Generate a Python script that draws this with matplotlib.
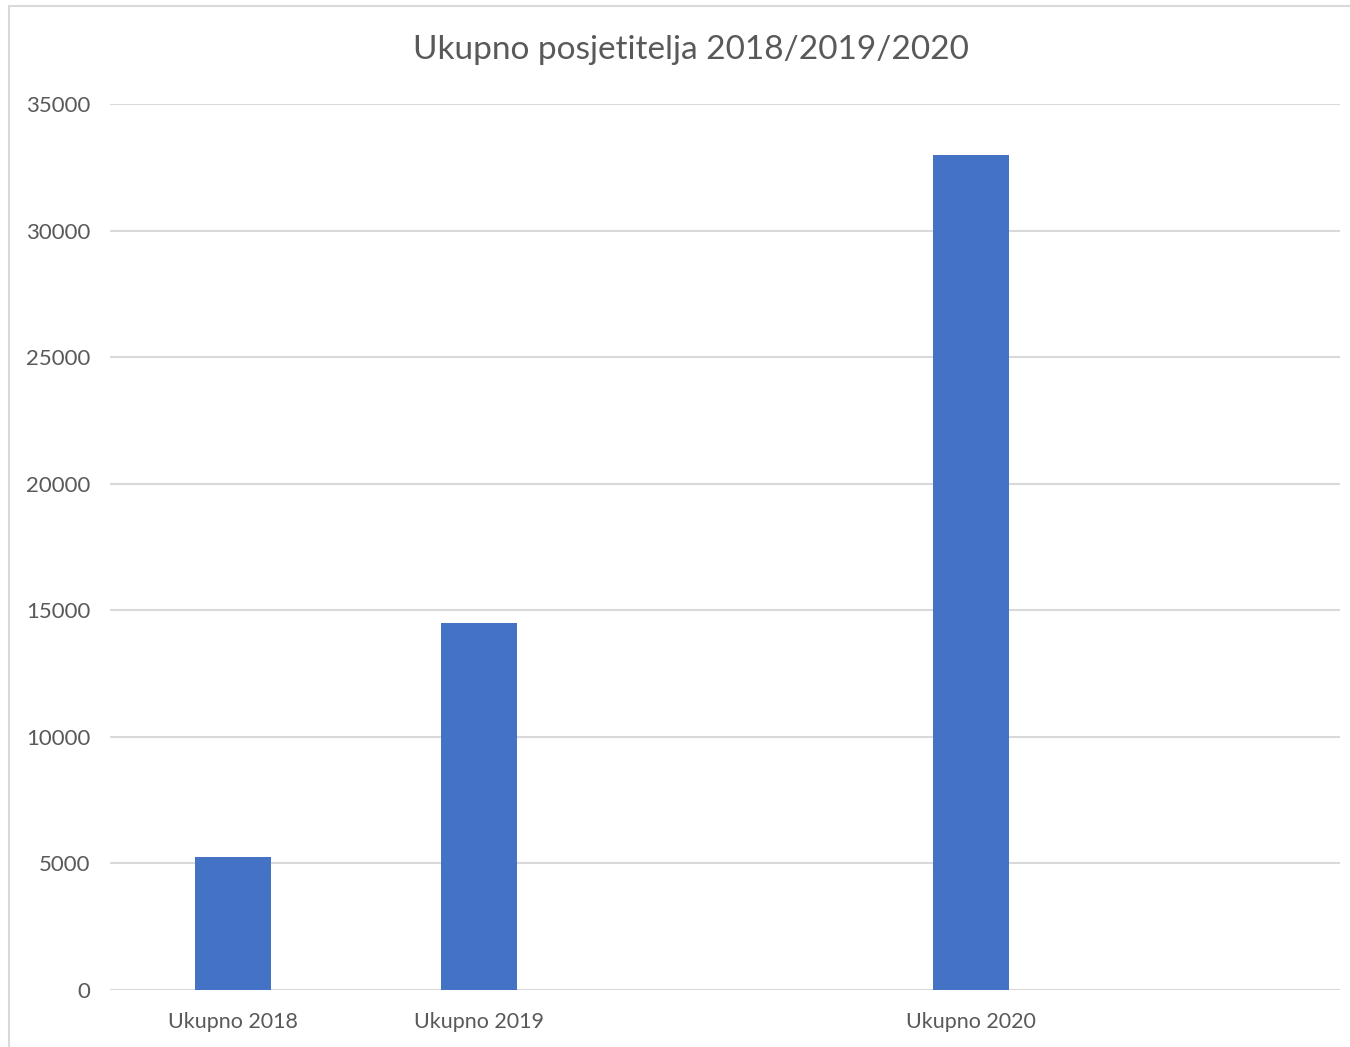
import matplotlib.pyplot as plt
from matplotlib.patches import Rectangle

# category slots as in the source sheet (two empty columns)
categories = ['Ukupno 2018', 'Ukupno 2019', '', 'Ukupno 2020', '']
visitors = [5250, 14500, 0, 33000, 0]
yticks = [0, 5000, 10000, 15000, 20000, 25000, 30000, 35000]

W, H = 1350, 1047
fig = plt.figure(figsize=(W / 100, H / 100), dpi=100)
plt.rcParams['font.family'] = ['Lato', 'DejaVu Sans']

# light chart-area border
fig.patches.append(Rectangle((9 / W, -0.1), 1.2, 1 - 6 / H + 0.1, transform=fig.transFigure,
                             fill=False, edgecolor='#d9d9d9', linewidth=1.5))

ax = fig.add_axes([110 / W, 1 - 990 / H, (1340 - 110) / W, (990 - 104) / H])
x = range(len(categories))
ax.bar(x, visitors, width=0.313, color='#4472c4', zorder=3)

ax.set_xlim(-0.5, len(categories) - 0.5)
ax.set_ylim(0, 35000)
ax.set_yticks(yticks)
ax.set_yticklabels([str(v) for v in yticks])
ax.set_xticks(list(x))
ax.set_xticklabels(categories)
ax.grid(axis='y', color='#d9d9d9', linewidth=1.5, zorder=0)
ax.tick_params(axis='y', length=0, labelsize=16, labelcolor='#595959', pad=14)
ax.tick_params(axis='x', length=0, labelsize=15.5, labelcolor='#595959', pad=16)
for s in ax.spines.values():
    s.set_visible(False)

fig.text(691 / W, 1 - 50 / H, 'Ukupno posjetitelja 2018/2019/2020', ha='center', va='center',
         fontsize=24, color='#595959')

fig.savefig('out.png', dpi=100)
